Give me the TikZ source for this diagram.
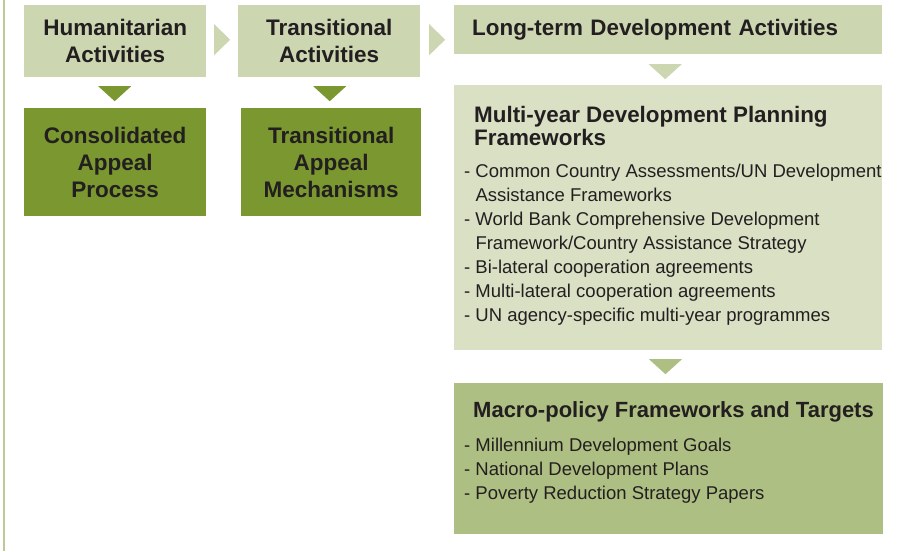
\documentclass[tikz,border=0pt]{standalone}
\usepackage{fontspec}
\setmainfont{Liberation Sans}
\usetikzlibrary{calc}

\definecolor{leaflite}{RGB}{204,214,177}
\definecolor{leafpale}{RGB}{217,224,195}
\definecolor{leafdark}{RGB}{122,151,48}
\definecolor{leafmid}{RGB}{174,191,131}
\definecolor{leafrule}{RGB}{190,201,152}
\definecolor{ink}{RGB}{35,31,32}

\begin{document}
\begin{tikzpicture}[x=1pt, y=-1pt,
    box/.style={rectangle, inner sep=0pt, anchor=north west, text=ink},
    head/.style={font=\bfseries\fontsize{22.5}{27}\selectfont, align=center},
    title/.style={font=\bfseries\fontsize{22.4}{23}\selectfont, align=left, text=ink, inner sep=0pt},
    items/.style={font=\fontsize{18.5}{24}\selectfont, align=left, text=ink, inner sep=0pt, anchor=north west}]
    \useasboundingbox (0,0) rectangle (898,552);

    % Draw the rule on the left
    \draw[leafrule, line width=2pt] (4,0) -- (4,551);

    % Top row of activities
    \node[box, head, fill=leaflite, minimum width=182pt, minimum height=72pt] (hum) at (24,5) {Humanitarian\\Activities};
    \node[box, head, fill=leaflite, minimum width=182pt, minimum height=72pt] (trans) at (238,5) {Transitional\\Activities};
    \node[box, fill=leaflite, minimum width=428pt, minimum height=49pt, text width=392pt, inner xsep=18pt,
      font=\bfseries\fontsize{22.4}{27}\selectfont, align=left] (long) at (454,5) {Long-term Development Activities};

    % Appeal boxes
    \node[box, head, fill=leafdark, minimum width=182pt, minimum height=108pt] (cap) at (24,108) {Consolidated\\Appeal\\Process};
    \node[box, head, fill=leafdark, minimum width=180pt, minimum height=108pt] (tam) at (241,108) {Transitional\\Appeal\\Mechanisms};

    % Frameworks
    \node[box, fill=leafpale, minimum width=428pt, minimum height=265pt] (plan) at (454,85) {};
    \node[title, anchor=north west] (plantitle) at ([shift={(20,21)}]plan.north west) {Multi-year Development Planning\\Frameworks};
    \node[items] (planlist) at ([shift={(10,79)}]plan.north west) {- Common Country Assessments/UN Development\\
      \hphantom{- }Assistance Frameworks\\
      - World Bank Comprehensive Development\\
      \hphantom{- }Framework/Country Assistance Strategy\\
      - Bi-lateral cooperation agreements\\
      - Multi-lateral cooperation agreements\\
      - UN agency-specific multi-year programmes};

    \node[box, fill=leafmid, minimum width=429pt, minimum height=151pt] (macro) at (454,383) {};
    \node[title, anchor=base west, font=\bfseries\fontsize{22}{23}\selectfont] (macrotitle) at ([shift={(19,34)}]macro.north west) {Macro-policy Frameworks and Targets};
    \node[items] (macrolist) at ([shift={(10,55)}]macro.north west) {- Millennium Development Goals\\
      - National Development Plans\\
      - Poverty Reduction Strategy Papers};

    % Chevrons between the activities
    \fill[leaflite] ($(hum.east)!.5!(trans.west)$) ++(-8,-17) -- ++(16,15.5) -- ++(-16,15.5) -- cycle;
    \fill[leaflite] ($(trans.east)!.5!(trans.east -| long.west)$) ++(-8,-17) -- ++(16,15.5) -- ++(-16,15.5) -- cycle;

    % Down triangles
    \foreach \a/\b in {hum/cap, trans/tam} {
      \fill[leafdark] ($(\a.south)!.5!(\b.north)$) ++(-17,-6.5) -- ++(33,0) -- ++(-16.5,15) -- cycle;
    }
    \fill[leaflite] ($(long.south)!.5!(plan.north)$) ++(-19.5,-5.5) -- ++(33,0) -- ++(-16.5,15) -- cycle;
    \fill[leafmid] ($(plan.south)!.5!(macro.north)$) ++(-19.5,-7.5) -- ++(33,0) -- ++(-16.5,15) -- cycle;

  \end{tikzpicture}
\end{document}
